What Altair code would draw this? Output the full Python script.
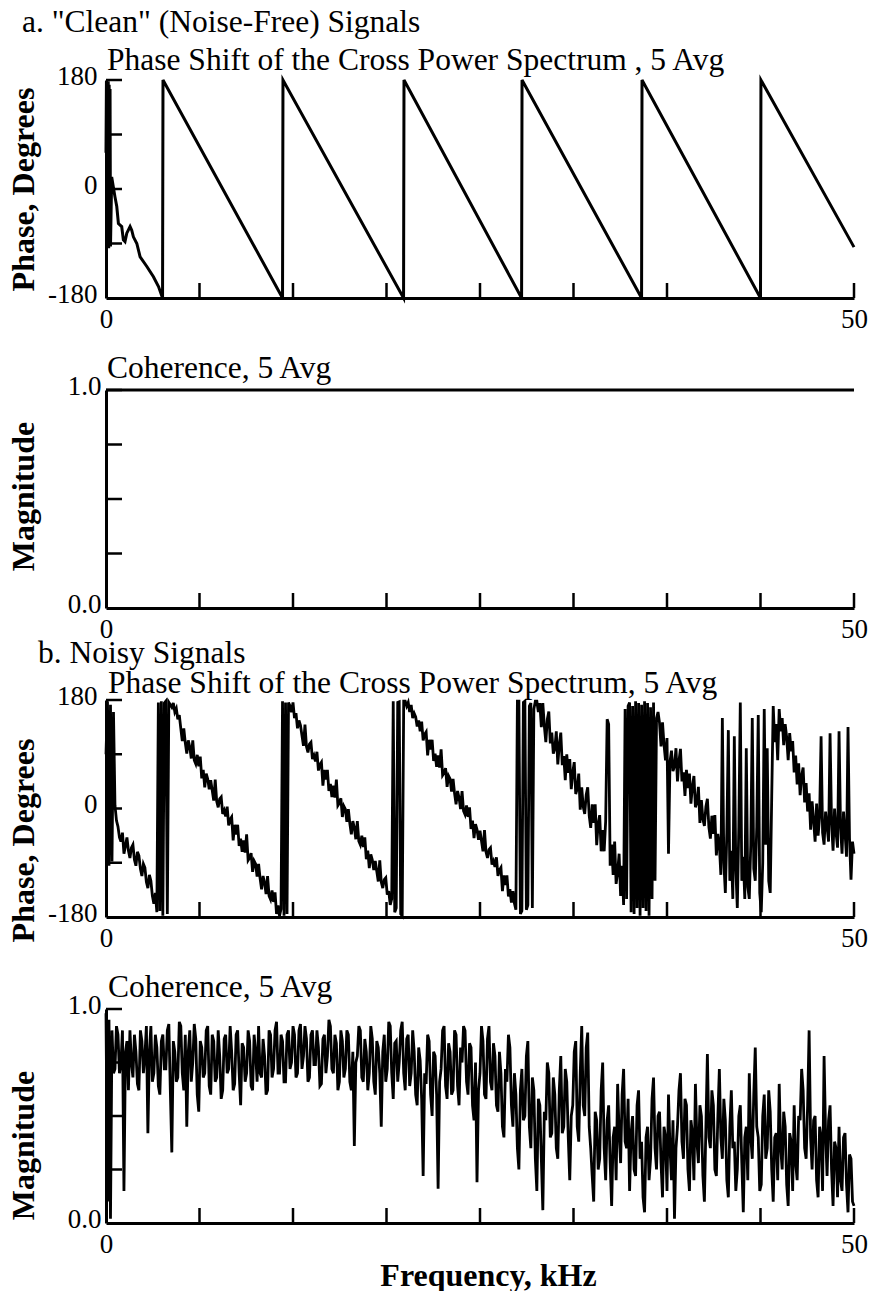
import altair as alt
import pandas as pd

FONT = "Liberation Serif"

HEADER_A = 'a. "Clean" (Noise-Free) Signals'
HEADER_B = "b. Noisy Signals"
PHASE_TITLE_A = "Phase Shift of the Cross Power Spectrum , 5 Avg"
PHASE_TITLE_B = "Phase Shift of the Cross Power Spectrum, 5 Avg"
COH_TITLE = "Coherence, 5 Avg"
Y_PHASE = "Phase, Degrees"
Y_COH = "Magnitude"
X_TITLE = "Frequency, kHz"

X_LABELS = [0, 50]
X_TICKS = [6.25, 12.5, 18.75, 25, 31.25, 37.5, 43.75, 50]
PHASE_LABELS = [-180, 0, 180]
PHASE_TICKS = [180, 90, 0, -90]
COH_LABELS = [0.0, 1.0]
COH_TICKS = [1.0, 0.75, 0.5, 0.25]

# a. clean phase (polyline vertices, kHz / degrees)
clean_phase_f = [0.00, 0.03, 0.06, 0.09, 0.12, 0.15, 0.18, 0.21, 0.24, 0.27,
                 0.30, 0.38, 0.60, 0.72, 0.83, 1.05, 1.16, 1.27, 1.39, 1.61,
                 1.72, 1.83, 2.06, 2.28, 2.73, 3.17, 3.51, 3.78, 3.81, 11.80,
                 11.83, 19.89, 19.92, 27.78, 27.81, 35.80, 35.83, 43.75, 43.78, 50.00]
clean_phase_deg = [60, 178, -95, 175, -90, 178, -98, 172, -60, 165,
                   -95, 20, -13, -29, -57, -62, -84, -87, -73, -62,
                   -68, -79, -90, -112, -128, -145, -161, -180, 180, -180,
                   180, -180, 180, -180, 180, -180, 180, -180, 180, -96]

# a. clean coherence
clean_coh_f = [0, 50]
clean_coh = [1.0, 1.0]

# b. noisy signals, one value per 0.1 kHz bin (each row = 1 kHz)
BIN_KHZ = 0.1
noisy_phase = [
    90, 178, -95, 172, -88, 160, 5, -20, -30, -48,
    -55, -40, -75, -62, -48, -70, -82, -65, -60, -85,
    -95, -72, -78, -100, -112, -92, -98, -122, -132, -110,
    -120, -145, -158, -140, -172, 176, -170, 178, -178, 175,
    178, -175, 176, 172, 168, 175, 160, 166, 148, 155,
    133, 112, 133, 109, 91, 113, 102, 83, 113, 80,
    74, 89, 70, 86, 50, 64, 35, 58, 49, 32,
    47, 30, 13, 48, 12, 2, 16, 19, -9, -3,
    -13, 3, -28, -18, -14, -53, -27, -43, -27, -62,
    -50, -72, -53, -73, -43, -86, -82, -74, -105, -87,
    -92, -113, -92, -116, -134, -112, -123, -142, -112, -145,
    -151, -136, -155, -139, -175, -161, -178, -167, 178, -178,
    176, -175, 176, 170, 160, 176, 150, 158, 133, 146,
    138, 121, 104, 139, 103, 93, 107, 110, 82, 88,
    78, 94, 63, 73, 77, 38, 64, 48, 64, 29,
    41, 19, 38, 18, 48, 5, 9, 17, -14, 4,
    -1, -22, -1, -25, -43, -21, -32, -51, -21, -54,
    -60, -45, -64, -48, -84, -70, -99, -76, -85, -102,
    -87, -104, -121, -86, -122, -132, -118, -115, -143, -137,
    -160, -150, 178, -172, -165, 176, 177, -175, -178, 178,
    178, 170, 176, 160, 172, 150, 158, 152, 136, 146,
    128, 144, 113, 123, 127, 88, 114, 98, 114, 79,
    91, 69, 88, 68, 98, 55, 59, 67, 36, 54,
    49, 28, 49, 25, 7, 29, 18, -1, 29, -4,
    -10, 5, -14, 2, -34, -20, -49, -26, -35, -52,
    -37, -54, -71, -36, -72, -82, -68, -65, -93, -87,
    -97, -81, -112, -102, -98, -137, -111, -127, -111, -146,
    -134, -156, -137, -157, -168, 178, 178, -175, -170, 176,
    178, -168, -160, 170, 175, -165, 165, 178, 178, 160,
    175, 135, 175, 137, 110, 148, 161, 108, 126, 91,
    99, 128, 73, 106, 126, 72, 87, 47, 90, 59,
    82, 32, 60, 77, 24, 33, 58, -2, 35, 3,
    -9, 23, 35, -12, -32, 7, -24, 7, -61, -25,
    -11, -71, -36, -71, -21, 148, 140, -95, -60, -110,
    -55, -125, -105, -75, -145, -95, -160, 165, -150, 170,
    176, -172, 170, -175, 178, -165, 175, -178, 172, -165,
    178, -170, 175, -178, 168, -150, 176, -120, 150, 160,
    142, 103, 143, 106, 80, 117, -75, 78, 96, 62,
    70, 100, 45, 79, 99, 45, 60, 21, 64, 34,
    58, 8, 37, 54, 2, 10, 36, -24, 14, -18,
    -29, 3, 16, -31, -50, -12, -42, -11, -78, -42,
    -60, -110, 150, -90, -140, -40, 130, -120, -70, -150,
    120, -100, -165, -30, 176, -120, -80, -150, 100, -130,
    -150, -60, 150, -100, -120, -30, 155, -140, -172, -90,
    165, -60, 100, -120, -140, 20, 170, 110, 140, 80,
    165, 128, 150, 105, 140, 118, 80, 125, 95, 112,
    60, 88, 40, 75, 22, 55, 68, 10, 42, -5,
    25, -35, 12, -20, -55, 8, -45, -15, 120, -40,
    -60, -5, -30, -55, 125, -25, -70, 0, -40, -65,
    128, -30, -75, -5, -40, -80, 135, -50, -118, -55,
    -75,
]
noisy_coh = [
    0.98, 0.10, 0.95, 0.02, 0.90, 0.70, 0.72, 0.92, 0.88, 0.70,
    0.75, 0.90, 0.15, 0.80, 0.85, 0.62, 0.90, 0.75, 0.68, 0.88,
    0.80, 0.65, 0.62, 0.90, 0.85, 0.70, 0.78, 0.92, 0.42, 0.80,
    0.92, 0.66, 0.70, 0.88, 0.82, 0.64, 0.60, 0.85, 0.88, 0.72,
    0.72, 0.90, 0.93, 0.62, 0.33, 0.85, 0.80, 0.66, 0.68, 0.94,
    0.92, 0.70, 0.62, 0.88, 0.45, 0.80, 0.90, 0.66, 0.75, 0.93,
    0.86, 0.60, 0.52, 0.85, 0.82, 0.68, 0.70, 0.90, 0.92, 0.64,
    0.60, 0.88, 0.85, 0.66, 0.68, 0.90, 0.78, 0.58, 0.62, 0.86,
    0.88, 0.70, 0.72, 0.92, 0.80, 0.62, 0.65, 0.88, 0.90, 0.70,
    0.55, 0.84, 0.82, 0.66, 0.70, 0.90, 0.85, 0.64, 0.62, 0.88,
    0.80, 0.66, 0.92, 0.70, 0.68, 0.86, 0.78, 0.60, 0.62, 0.90,
    0.88, 0.68, 0.72, 0.90, 0.94, 0.70, 0.70, 0.88, 0.85, 0.66,
    0.66, 0.88, 0.90, 0.72, 0.75, 0.92, 0.88, 0.68, 0.70, 0.90,
    0.93, 0.72, 0.78, 0.92, 0.86, 0.66, 0.68, 0.88, 0.90, 0.74,
    0.74, 0.90, 0.82, 0.64, 0.65, 0.86, 0.88, 0.70, 0.78, 0.95,
    0.92, 0.72, 0.70, 0.88, 0.84, 0.62, 0.66, 0.90, 0.85, 0.68,
    0.72, 0.90, 0.88, 0.66, 0.62, 0.80, 0.36, 0.75, 0.78, 0.92,
    0.90, 0.68, 0.66, 0.86, 0.80, 0.62, 0.70, 0.92, 0.86, 0.66,
    0.60, 0.85, 0.82, 0.70, 0.45, 0.80, 0.88, 0.66, 0.72, 0.94,
    0.92, 0.70, 0.58, 0.84, 0.85, 0.66, 0.75, 0.90, 0.94, 0.70,
    0.62, 0.86, 0.88, 0.64, 0.70, 0.90, 0.80, 0.60, 0.55, 0.82,
    0.76, 0.58, 0.22, 0.70, 0.65, 0.88, 0.85, 0.60, 0.50, 0.80,
    0.78, 0.60, 0.16, 0.66, 0.72, 0.90, 0.92, 0.64, 0.58, 0.84,
    0.80, 0.60, 0.62, 0.90, 0.88, 0.64, 0.55, 0.82, 0.75, 0.92,
    0.90, 0.66, 0.60, 0.84, 0.82, 0.55, 0.48, 0.75, 0.19, 0.62,
    0.70, 0.92, 0.85, 0.60, 0.58, 0.86, 0.92, 0.66, 0.62, 0.84,
    0.78, 0.55, 0.52, 0.80, 0.70, 0.45, 0.40, 0.72, 0.66, 0.88,
    0.82, 0.55, 0.45, 0.70, 0.60, 0.35, 0.25, 0.62, 0.72, 0.48,
    0.50, 0.78, 0.85, 0.45, 0.35, 0.68, 0.62, 0.30, 0.15, 0.58,
    0.55, 0.30, 0.06, 0.52, 0.48, 0.75, 0.70, 0.40, 0.42, 0.68,
    0.60, 0.35, 0.30, 0.62, 0.78, 0.42, 0.45, 0.72, 0.66, 0.40,
    0.20, 0.50, 0.55, 0.80, 0.85, 0.45, 0.38, 0.70, 0.92, 0.55,
    0.50, 0.82, 0.89, 0.45, 0.35, 0.22, 0.10, 0.52, 0.48, 0.25,
    0.30, 0.62, 0.75, 0.35, 0.20, 0.48, 0.55, 0.28, 0.08, 0.40,
    0.45, 0.20, 0.65, 0.42, 0.28, 0.60, 0.72, 0.38, 0.35, 0.58,
    0.15, 0.42, 0.50, 0.25, 0.22, 0.55, 0.62, 0.30, 0.38, 0.12,
    0.05, 0.40, 0.45, 0.20, 0.30, 0.58, 0.68, 0.35, 0.25, 0.50,
    0.52, 0.28, 0.12, 0.45, 0.40, 0.15, 0.60, 0.35, 0.20, 0.48,
    0.02, 0.35, 0.45, 0.62, 0.70, 0.38, 0.30, 0.58, 0.55, 0.25,
    0.15, 0.48, 0.42, 0.20, 0.65, 0.38, 0.28, 0.55, 0.50, 0.22,
    0.10, 0.45, 0.79, 0.40, 0.35, 0.62, 0.55, 0.25, 0.22, 0.50,
    0.72, 0.40, 0.30, 0.58, 0.48, 0.20, 0.12, 0.45, 0.62, 0.35,
    0.38, 0.15, 0.25, 0.50, 0.55, 0.28, 0.05, 0.40, 0.45, 0.20,
    0.70, 0.40, 0.30, 0.60, 0.82, 0.45, 0.40, 0.15, 0.18, 0.50,
    0.60, 0.30, 0.35, 0.62, 0.52, 0.25, 0.10, 0.40, 0.42, 0.20,
    0.65, 0.35, 0.25, 0.52, 0.45, 0.18, 0.08, 0.42, 0.38, 0.15,
    0.55, 0.28, 0.20, 0.50, 0.48, 0.72, 0.62, 0.35, 0.30, 0.55,
    0.90, 0.40, 0.25, 0.48, 0.50, 0.20, 0.12, 0.45, 0.40, 0.15,
    0.78, 0.42, 0.22, 0.48, 0.55, 0.25, 0.08, 0.38, 0.35, 0.12,
    0.45, 0.20, 0.15, 0.40, 0.42, 0.18, 0.05, 0.32, 0.30, 0.10,
    0.08,
]
noisy_phase_f = [round(i * BIN_KHZ, 2) for i in range(len(noisy_phase))]
noisy_coh_f = [round(i * BIN_KHZ, 2) for i in range(len(noisy_coh))]

W = 748
H1, H2, H3, H4 = 218, 218, 217, 214
PHASE_EXPR = "'' + datum.value"
COH_EXPR = "format(datum.value, '.1f')"
TXT = 31.5
AX_TITLE = 32


def text_layer(txt, x, y, size=TXT):
    return alt.Chart(pd.DataFrame({"t": [txt]})).mark_text(
        align="left", baseline="alphabetic", font=FONT, fontSize=size, color="black"
    ).encode(x=alt.value(x), y=alt.value(y), text="t:N")


def panel(df, ydom, ylabels, yticks, label_expr, ytitle, title_y, h, texts,
          xtitle=None, ypad=9, sw=3):
    xs = alt.Scale(domain=[0, 50], nice=False, zero=False)
    ys = alt.Scale(domain=ydom, nice=False, zero=False)
    xaxis = dict(values=X_LABELS, labelFlush=False, labelPadding=8, title=xtitle)
    if xtitle:
        xaxis.update(titleFont=FONT, titleFontSize=AX_TITLE, titleFontWeight="bold",
                     titleBaseline="alphabetic", titleY=62, titleX=382)
    xax = alt.Axis(**xaxis)
    yax = alt.Axis(values=ylabels, labelExpr=label_expr, labelPadding=ypad,
                   labelOffset=-4,
                   title=ytitle, titleX=-73, titleY=title_y, titleBaseline="alphabetic",
                   titleFont=FONT, titleFontSize=AX_TITLE, titleFontWeight="bold")
    line = alt.Chart(df).mark_line(color="black", strokeWidth=sw).encode(
        x=alt.X("f:Q", scale=xs, axis=xax),
        y=alt.Y("v:Q", scale=ys, axis=yax),
    )
    yt = alt.Chart(pd.DataFrame({"v": yticks})).mark_rule(color="black", strokeWidth=2.5).encode(
        y=alt.Y("v:Q", scale=ys, axis=yax), x=alt.value(0), x2=alt.value(16))
    xt = alt.Chart(pd.DataFrame({"f": X_TICKS})).mark_rule(color="black", strokeWidth=2.5).encode(
        x=alt.X("f:Q", scale=xs, axis=xax), y=alt.value(h), y2=alt.value(h - 15))
    return alt.layer(line, yt, xt, *texts).properties(width=W, height=h)


p1 = panel(pd.DataFrame({"f": clean_phase_f, "v": clean_phase_deg}), [-180, 180],
           PHASE_LABELS, PHASE_TICKS, PHASE_EXPR, Y_PHASE, 109, H1,
           [text_layer(HEADER_A, -84, -48), text_layer(PHASE_TITLE_A, 1, -10)])
p2 = panel(pd.DataFrame({"f": clean_coh_f, "v": clean_coh}), [0, 1],
           COH_LABELS, COH_TICKS, COH_EXPR, Y_COH, 106, H2,
           [text_layer(COH_TITLE, 1, -12)], ypad=5)
p3 = panel(pd.DataFrame({"f": noisy_phase_f, "v": noisy_phase}), [-180, 180],
           PHASE_LABELS, PHASE_TICKS, PHASE_EXPR, Y_PHASE, 140, H3,
           [text_layer(HEADER_B, -68, -37), text_layer(PHASE_TITLE_B, 2, -7)], sw=2.8)
p4 = panel(pd.DataFrame({"f": noisy_coh_f, "v": noisy_coh}), [0, 1],
           COH_LABELS, COH_TICKS, COH_EXPR, Y_COH, 136, H4,
           [text_layer(COH_TITLE, 2, -12)], xtitle=X_TITLE, ypad=5, sw=2.8)

chart = alt.vconcat(p1, p2, p3, p4, spacing=92, bounds="flush").properties(
    padding={"left": 6, "top": 7, "right": 0, "bottom": 0}
).configure_axis(
    labelFont=FONT, labelFontSize=27, labelColor="black", domainColor="black",
    domainWidth=3, ticks=False, tickSize=0, grid=False, titleColor="black",
).configure_view(strokeWidth=0)

chart.save("out.html", embed_options={"renderer": "svg", "actions": False})
